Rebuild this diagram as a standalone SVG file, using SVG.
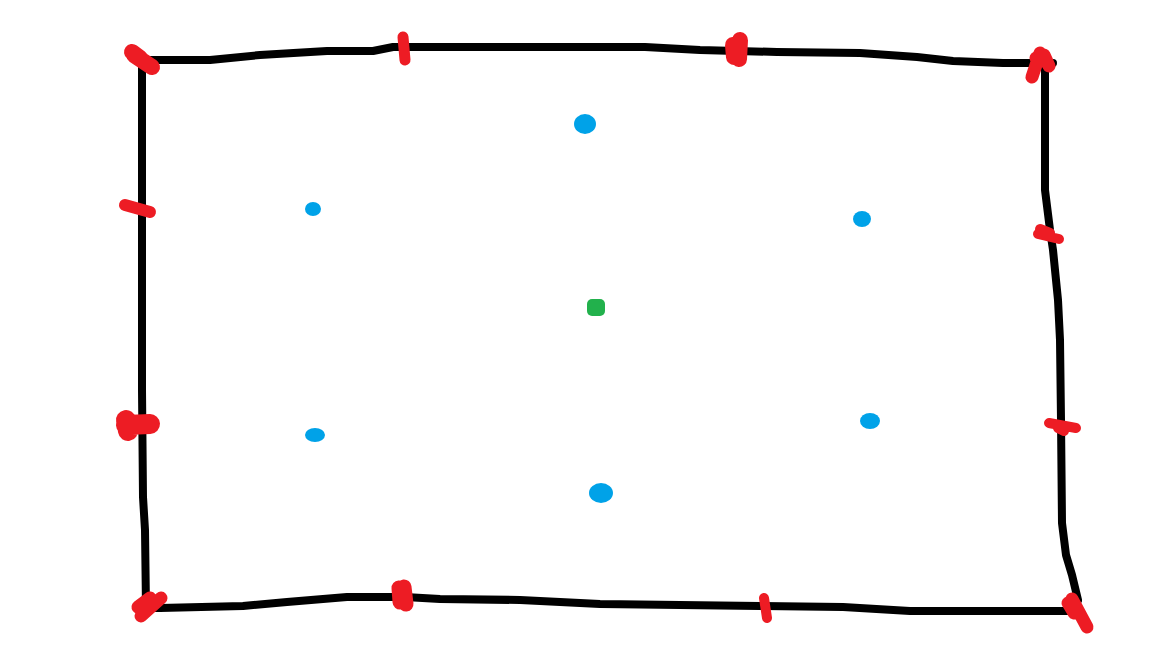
<svg xmlns="http://www.w3.org/2000/svg" width="1152" height="648" viewBox="0 0 1152 648">
<style>
.edge{fill:none;stroke:#000;stroke-width:8;stroke-linecap:round;stroke-linejoin:round}
.red{fill:none;stroke:#ED1C24;stroke-linecap:round;stroke-linejoin:round}
.blue{fill:#00A2E8}
.green{fill:#22B14C}
</style>
<rect width="1152" height="648" fill="#fff"/>
<g id="outline">
<path class="edge" d="M142,60 L210,60 L260,55 L327,51 L373,51 L393,47 L645,47 L700,50 L777,52 L860,53 L917,57 L953,61 L1003,63 L1053,63"/>
<path class="edge" d="M1045,63 L1045,190 L1050,230 L1053,250 L1058,300 L1060,340 L1061,420 L1062,523 L1066,555 L1072,575 L1078,600"/>
<path class="edge" d="M1067,611 L910,611 L843,607 L760,606 L600,604 L520,600 L440,599 L405,597 L347,597 L287,602 L243,606 L160,608 L147,608"/>
<path class="edge" d="M142,60 L142,390 L143,497 L145,530 L146,608"/>
</g>
<g id="red-marks">
<path class="red" stroke-width="16" d="M134,55 L152,67 M132,52 L140,58"/>
<path class="red" stroke-width="11" d="M403,37 L405,60"/>
<path class="red" stroke-width="16" d="M740,40 L739,59 M733,45 L734,57"/>
<path class="red" stroke-width="13" d="M1040,53 L1032,77 M1044,55 L1049,66 M1036,58 L1046,62"/>
<path class="red" stroke-width="12" d="M125,205 L150,212"/>
<path class="red" stroke-width="10" d="M1038,234 L1059,239 M1040,229 L1050,233"/>
<path class="red" stroke-width="20" d="M126,425 L150,424 M126,420 L128,431"/>
<path class="red" stroke-width="10" d="M1049,423 L1076,428 M1058,428 L1064,431"/>
<path class="red" stroke-width="13" d="M141,616 L161,598 M138,607 L150,598"/>
<path class="red" stroke-width="15" d="M404,587 L406,604 M399,588 L400,602"/>
<path class="red" stroke-width="10" d="M764,598 L767,618"/>
<path class="red" stroke-width="13" d="M1072,599 L1087,627 M1068,603 L1074,613"/>
</g>
<g id="dots">
<ellipse class="blue" cx="585" cy="124" rx="11" ry="10"/>
<ellipse class="blue" cx="313" cy="209" rx="8" ry="7"/>
<ellipse class="blue" cx="862" cy="219" rx="9" ry="8"/>
<ellipse class="blue" cx="315" cy="435" rx="10" ry="7"/>
<ellipse class="blue" cx="870" cy="421" rx="10" ry="8"/>
<ellipse class="blue" cx="601" cy="493" rx="12" ry="10"/>
<rect class="green" x="587" y="299" width="18" height="17" rx="5"/>
</g>
</svg>
